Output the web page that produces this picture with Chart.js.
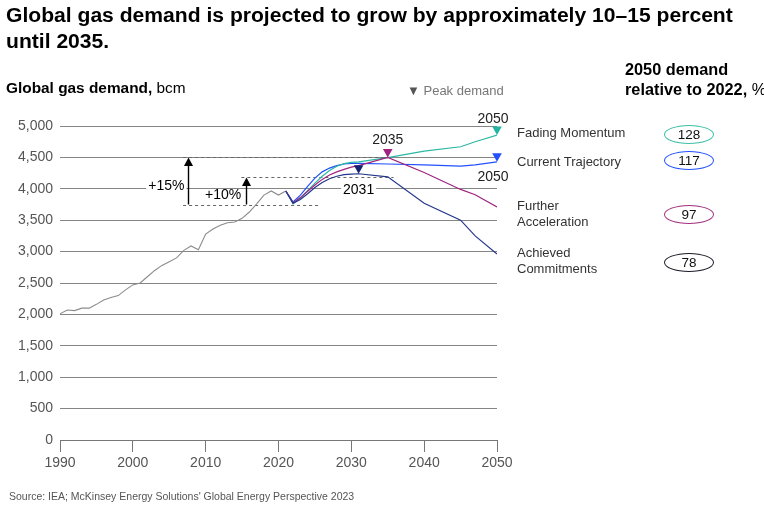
<!DOCTYPE html>
<html><head><meta charset="utf-8">
<script src="https://cdn.jsdelivr.net/npm/chart.js@4/dist/chart.umd.min.js"></script>
<style>
html,body{margin:0;padding:0;background:#fff;}
body{width:764px;height:508px;overflow:hidden;position:relative;font-family:"Liberation Sans",Arial,sans-serif;color:#000;}
#c{position:absolute;left:0;top:0;}
.t{position:absolute;white-space:nowrap;}
#title{left:6px;top:2px;font-size:21.1px;font-weight:bold;line-height:26px;}
#ylab{left:6px;top:79px;font-size:15.4px;}
#peak{left:407px;top:83px;font-size:13px;color:#777;}
#peak span{color:#555;font-size:13px;}
#rhead{left:625px;top:60px;font-size:16.3px;font-weight:bold;line-height:19.5px;}
.lg{position:absolute;left:517px;font-size:13px;line-height:16px;color:#333;white-space:nowrap;}
.ov{position:absolute;left:664px;width:48px;height:17px;border:1.5px solid;border-radius:50%;text-align:center;font-size:13.5px;line-height:17px;color:#111;}
#src{left:9px;top:490px;font-size:10.5px;color:#555;}
</style></head>
<body>
<canvas id="c" width="764" height="508"></canvas>
<div class="t" id="title">Global gas demand is projected to grow by approximately 10–15 percent<br>until 2035.</div>
<div class="t" id="ylab"><b>Global gas demand,</b> bcm</div>
<div class="t" id="peak"><span>▼</span> Peak demand</div>
<div class="t" id="rhead">2050 demand<br>relative to 2022, <span style="font-weight:normal">%</span></div>
<div class="lg" style="top:125px">Fading Momentum</div>
<div class="lg" style="top:154px">Current Trajectory</div>
<div class="lg" style="top:198px">Further<br>Acceleration</div>
<div class="lg" style="top:245px">Achieved<br>Commitments</div>
<div class="ov" id="o1" style="top:125px;border-color:#3dbfa8">128</div>
<div class="ov" id="o2" style="top:151px;border-color:#2251ff">117</div>
<div class="ov" id="o3" style="top:205px;border-color:#a3307f">97</div>
<div class="ov" id="o4" style="top:253px;border-color:#1c1c2a">78</div>
<div class="t" id="src">Source: IEA; McKinsey Energy Solutions' Global Energy Perspective 2023</div>
<script>
// ---------- DATA ----------
const histYears = [1990,1991,1992,1993,1994,1995,1996,1997,1998,1999,2000,2001,2002,2003,2004,2005,2006,2007,2008,2009,2010,2011,2012,2013,2014,2015,2016,2017,2018,2019,2020,2021];
const histValues = [2010,2070,2060,2100,2100,2160,2230,2270,2300,2390,2470,2500,2600,2700,2780,2840,2900,3020,3090,3030,3280,3360,3420,3460,3470,3530,3630,3760,3900,3965,3900,3965];

const scenYears = [2021,2022,2023,2024,2025,2026,2027,2028,2029,2030,2031,2035,2040,2045,2047,2050];
const fadingMomentum     = [3965,3760,3850,3970,4090,4200,4290,4360,4400,4420,4430,4495,4600,4670,4750,4855];
const currentTrajectory  = [3965,3790,3900,4040,4170,4270,4330,4370,4395,4405,4405,4395,4380,4360,4380,4430];
const furtherAcceleration= [3965,3775,3860,3960,4060,4150,4220,4270,4310,4345,4370,4500,4260,3990,3905,3710];
const achievedCommitments= [3965,3770,3830,3920,4020,4100,4160,4200,4225,4235,4240,4190,3770,3500,3250,2960];

const scenarioNames = ['Fading Momentum','Current Trajectory','Further Acceleration','Achieved Commitments'];
const peakYears = [2050, 2050, 2035, 2031];
const share2050 = [128, 117, 97, 78];

const xTicks = [1990,2000,2010,2020,2030,2040,2050];
const yTicks = [0,500,1000,1500,2000,2500,3000,3500,4000,4500,5000];

// reference levels for the +10% / +15% annotation (bcm)
const baseLevel = 3750, level10 = 4180, level15 = 4500;

// ---------- STYLE ----------
const FONT = '"Liberation Sans", Arial, sans-serif';
const colors = ['#2bb8a3','#2251ff','#a1237f','#24378a'];
const peakColors = ['#22b59f','#2251ff','#a1217e','#13236e'];

const scenarioSeries = [fadingMomentum,currentTrajectory,furtherAcceleration,achievedCommitments];
const toXY = (xs, ys) => xs.map((x,i)=>({x, y: ys[i]}));

const datasets = [{
  label:'Historical', data: toXY(histYears,histValues), borderColor:'#8c8c8c', borderWidth:1.1,
  pointRadius:0, tension:0, order:5
}];
[3,2,0,1].forEach(i=>{
  datasets.push({label:scenarioNames[i], data:toXY(scenYears,scenarioSeries[i]), borderColor:colors[i],
    borderWidth:1.2, pointRadius:0, tension:0});
});

const annot = {
  id:'annot',
  beforeDatasetsDraw(chart){
    const {ctx, scales:{x,y}} = chart;
    ctx.save();
    ctx.font = '14px '+FONT;
    ctx.textBaseline = 'middle'; ctx.textAlign='center';
    const lab = (t, cx, cy, bg) => {
      if (bg){ const w = ctx.measureText(t).width; ctx.fillStyle='#fff'; ctx.fillRect(cx-w/2-2, cy-8, w+4, 16); }
      ctx.fillStyle='#000'; ctx.fillText(t, cx, cy);
    };
    ctx.strokeStyle='#666'; ctx.lineWidth=1; ctx.setLineDash([3,3]);
    const dl = (v, x0, x1) => { const yy = Math.round(y.getPixelForValue(v))+0.5;
      ctx.beginPath(); ctx.moveTo(x.getPixelForValue(x0), yy); ctx.lineTo(x.getPixelForValue(x1), yy); ctx.stroke(); };
    dl(level15, 2006.9, 2035.6);
    dl(baseLevel, 2006.9, 2025.5);
    dl(level10, 2014.9, 2035.8);
    ctx.setLineDash([]);
    const arrow = (xv, v0, v1) => {
      const px = Math.round(x.getPixelForValue(xv))+0.5, y0 = y.getPixelForValue(v0), y1 = y.getPixelForValue(v1);
      ctx.strokeStyle='#000'; ctx.fillStyle='#000'; ctx.lineWidth=1.4;
      ctx.beginPath(); ctx.moveTo(px,y0); ctx.lineTo(px,y1+6); ctx.stroke();
      ctx.beginPath(); ctx.moveTo(px,y1); ctx.lineTo(px-4.5,y1+8.5); ctx.lineTo(px+4.5,y1+8.5); ctx.closePath(); ctx.fill();
    };
    arrow(2007.6, baseLevel, level15);
    arrow(2015.5, baseLevel, level10);
    lab('+15%', x.getPixelForValue(2004.6), y.getPixelForValue(4040), true);
    lab('+10%', x.getPixelForValue(2012.4), y.getPixelForValue(3900), false);
    const i3 = scenYears.indexOf(peakYears[3]);
    lab(String(peakYears[3]), x.getPixelForValue(peakYears[3]), y.getPixelForValue(achievedCommitments[i3]) + 16, true);
    ctx.restore();
  },
  afterDatasetsDraw(chart){
    const {ctx, scales:{x,y}} = chart;
    ctx.save();
    ctx.font = '14px '+FONT; ctx.textAlign='center'; ctx.textBaseline='middle';
    scenarioSeries.forEach((s,i)=>{
      const idx = scenYears.indexOf(peakYears[i]);
      const px = x.getPixelForValue(peakYears[i]), py = y.getPixelForValue(s[idx]);
      ctx.fillStyle = peakColors[i];
      ctx.beginPath(); ctx.moveTo(px, py); ctx.lineTo(px-4.8, py-8.5); ctx.lineTo(px+4.8, py-8.5); ctx.closePath(); ctx.fill();
      ctx.fillStyle='#222';
      if (i===0) ctx.fillText(String(peakYears[i]), px-4, py-16);
      if (i===1) ctx.fillText(String(peakYears[i]), px-4, py+15);
      if (i===2) ctx.fillText(String(peakYears[i]), px, py-17);
    });
    ctx.restore();
  }
};

new Chart(document.getElementById('c'), {
  type:'line',
  data:{datasets},
  options:{
    responsive:false, animation:false, events:[],
    layout:{padding:{left:0,right:267,top:126,bottom:0}},
    plugins:{legend:{display:false},tooltip:{enabled:false}},
    scales:{
      x:{type:'linear',min:1990,max:2050,
        afterFit(s){s.height=68;},
        afterBuildTicks(s){s.ticks = xTicks.map(v=>({value:v}));},
        ticks:{color:'#555',font:{size:14,family:FONT},padding:3,maxRotation:0,callback:v=>String(v)},
        grid:{drawOnChartArea:false,drawTicks:true,tickLength:12,color:'#777',lineWidth:1},
        border:{display:true,color:'#777',width:1}},
      y:{min:0,max:5000,
        afterFit(s){s.width=60;},
        afterBuildTicks(s){s.ticks = yTicks.map(v=>({value:v}));},
        ticks:{color:'#555',font:{size:14,family:FONT},padding:7,callback:v=>v.toLocaleString('en-US')},
        grid:{color:'#858585',drawTicks:false,lineWidth:1},
        border:{display:false}}
    }
  },
  plugins:[annot]
});
</script>
</body></html>
